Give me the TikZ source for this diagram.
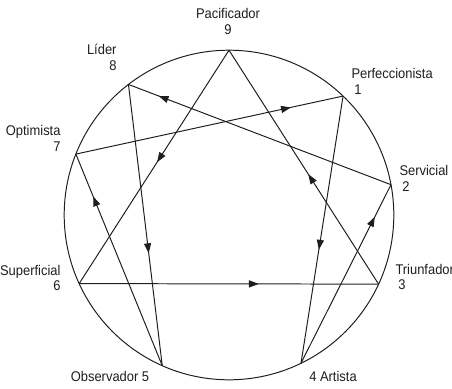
\documentclass[tikz,border=0pt]{standalone}
\usepackage{fontspec}
\setmainfont{Liberation Sans}[FakeStretch=0.92]
\usetikzlibrary{arrows.meta, decorations.markings}
\definecolor{InkGray}{RGB}{30, 30, 30}

\tikzset{
  midarrow/.style={postaction={decorate}, decoration={markings, mark=at position #1 with {\arrow{Triangle[length=7pt,width=5pt]}}}},
  lbl/.style={inner sep=0pt, text=InkGray, font=\fontsize{10}{11.3}\selectfont}
}

\begin{document}
\begin{tikzpicture}[line width=0.7pt, InkGray]
    \useasboundingbox (-5.725,-4.325) rectangle (5.575,5.375);
    \def\R{4.12}

    % Circle
    \draw (0,0) circle (\R);

    % Points on the circle
    \coordinate (p9) at (90:\R);
    \coordinate (p1) at (46.2:\R);
    \coordinate (p2) at (10.6:\R);
    \coordinate (p3) at (-24.8:\R);
    \coordinate (p4) at (-64.1:\R);
    \coordinate (p5) at (246.1:\R);
    \coordinate (p6) at (204.6:\R);
    \coordinate (p7) at (158.3:\R);
    \coordinate (p8) at (127.6:\R);

    % Triangle 9-6-3
    \draw[midarrow=0.48] (p9) -- (p6);
    \draw[midarrow=0.6] (p6) -- (p3);
    \draw[midarrow=0.47] (p3) -- (p9);

    % Hexad 1-4-2-8-5-7
    \foreach \a/\b/\f in {p1/p4/0.575, p4/p2/0.82, p2/p8/0.885, p8/p5/0.6, p5/p7/0.8, p7/p1/0.805} {
      \draw[midarrow=\f] (\a) -- (\b);
    }

    % Labels
    \node[lbl, align=center] (l9) at (-0.025,4.83) {Pacificador\\9};
    \node[lbl, align=left, anchor=west] (l1) at (3.05,3.35) {Perfeccionista\\\hspace{2pt}1};
    \node[lbl, align=left, anchor=west] (l2) at (4.25,0.925) {Servicial\\\hspace{2pt}2};
    \node[lbl, align=left, anchor=west] (l3) at (4.15,-1.55) {Triunfador\\\hspace{2pt}3};
    \node[lbl, anchor=center] (l4) at (2.6,-4.025) {4 Artista};
    \node[lbl, anchor=center] (l5) at (-2.975,-4.025) {Observador 5};
    \node[lbl, align=right, anchor=east] (l6) at (-4.2,-1.575) {Superficial\\6};
    \node[lbl, align=right, anchor=east] (l7) at (-4.2,1.925) {Optimista\\7};
    \node[lbl, align=right, anchor=east] (l8) at (-2.8,3.95) {Líder\\8};
\end{tikzpicture}
\end{document}
